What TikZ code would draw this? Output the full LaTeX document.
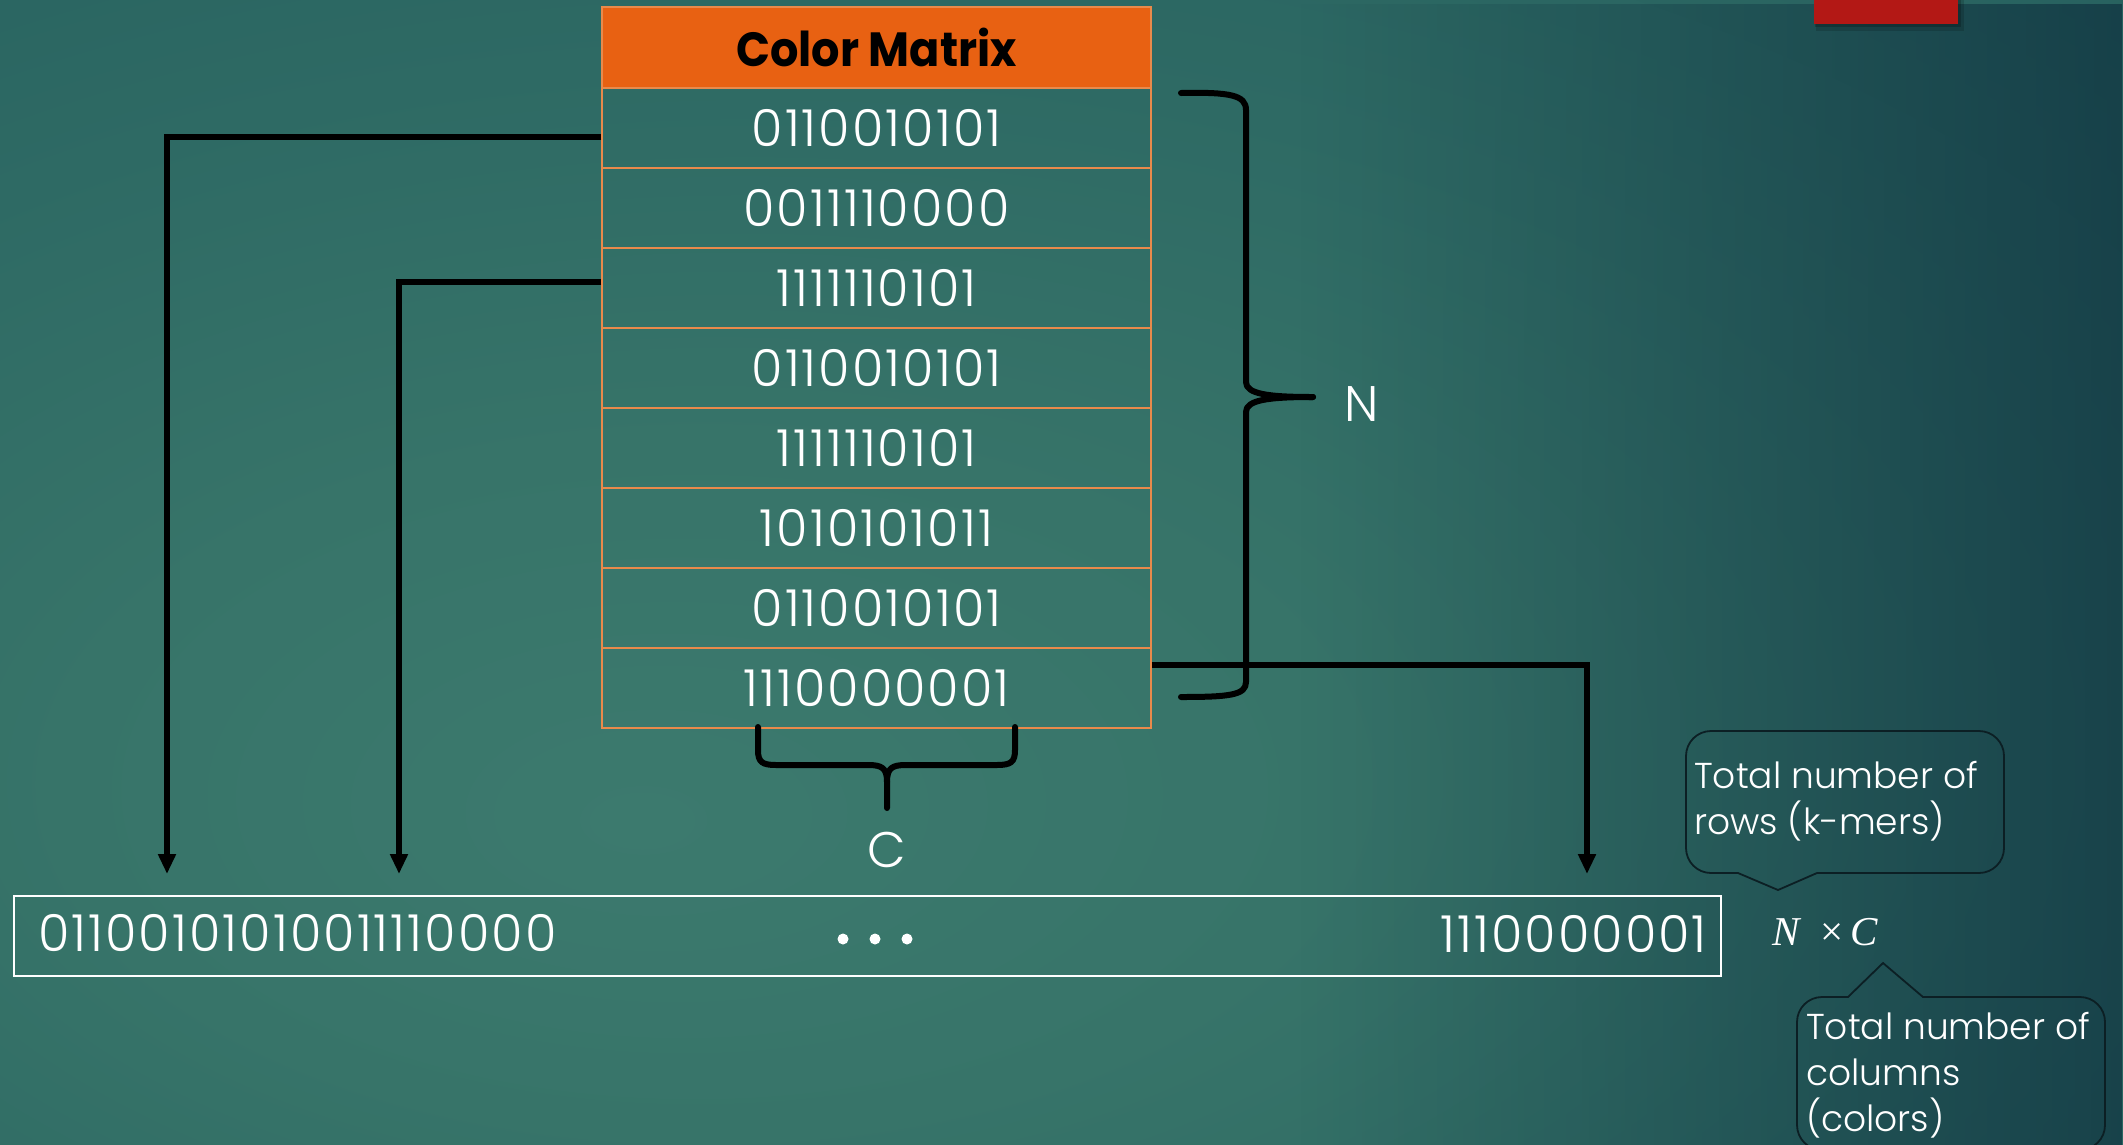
\documentclass[tikz,border=0pt]{standalone}
\usepackage{fontspec}
\setmainfont{Poppins Light}[BoldFont=Poppins Bold]
\newfontfamily\digfont{Poppins Light}[LetterSpace=4]
\newfontfamily\hdrfont{Poppins Bold}[FakeStretch=0.93]
\newfontfamily\ncfont{Liberation Serif}
\usetikzlibrary{arrows.meta,fadings}
\definecolor{bgA}{HTML}{3C7A6E}
\definecolor{bgB}{HTML}{377469}
\definecolor{bgC}{HTML}{2E6A64}
\definecolor{bgD}{HTML}{27615F}
\definecolor{bgE}{HTML}{215859}
\definecolor{bgF}{HTML}{1D5156}
\definecolor{bgG}{HTML}{174650}
\definecolor{navy}{HTML}{0B2A3A}
\definecolor{hdr}{HTML}{E86112}
\definecolor{cellline}{HTML}{E98A4B}
\definecolor{redbar}{HTML}{B31815}
\definecolor{callline}{HTML}{0C1F24}
\pgfdeclareradialshading{bgshade}{\pgfpoint{-10bp}{-11bp}}{color(0bp)=(bgA); color(15bp)=(bgB); color(30bp)=(bgC); color(45bp)=(bgD); color(60bp)=(bgE); color(75bp)=(bgF); color(100bp)=(bgG)}
\begin{document}
\begin{tikzpicture}[x=1pt,y=-1pt,
  wire/.style={line width=5.5pt, black, -{Triangle[length=20pt,width=17pt]}},
  bracepath/.style={line width=6pt, black, line cap=round, line join=round},
  cell/.style={draw=cellline, line width=1.6pt, minimum width=549pt, minimum height=79.8pt, inner sep=0pt, text=white, font=\digfont\fontsize{51}{56}\selectfont},
  lbl/.style={text=white, inner sep=0pt, font=\fontsize{50}{56}\selectfont},
  callout/.style={draw=callline, line width=1.8pt},
  calltext/.style={text=white, inner sep=0pt, align=left, font=\fontsize{36}{46}\selectfont}]
\useasboundingbox (0,0) rectangle (2123,1144);
\shade[shading=bgshade] (0,0) rectangle (2123,1144);
\fill[navy, opacity=0.6, path fading=west] (1300,0) rectangle (2123,1144);
% red bar
\fill[black,opacity=0.15] (1816,0) rectangle (1964,31);
\fill[black,opacity=0.2] (1815,0) rectangle (1961,27);
\fill[redbar] (1814,0) rectangle (1958,24);
% table
\node[cell, fill=hdr, text=black, font=\hdrfont\fontsize{48}{56}\selectfont, minimum height=81pt] (hdr) at (876.5,47.5) {Color Matrix};
\foreach \t [count=\i] in {0110010101,0011110000,1111110101,0110010101,1111110101,1010101011,0110010101,1110000001}
  \node[cell] (r\i) at (876.5,48+80*\i) {\t};
% right brace
\draw[bracepath] (1181,93) .. controls (1230,92) and (1246,95) .. (1246,110) -- (1246,382) .. controls (1246,394) and (1268,397) .. (1313,397);
\draw[bracepath] (1313,397) .. controls (1268,397) and (1246,400) .. (1246,412) -- (1246,682) .. controls (1246,695) and (1230,697) .. (1181,697);
\node[lbl] (nlab) at (1362,404) {N};
% bottom brace
\draw[bracepath] (758,727) -- (758,750) .. controls (758,762) and (762,765) .. (776,765) -- (868,765) .. controls (882,765) and (887,768) .. (887,782) -- (887,808);
\draw[bracepath] (1015,727) -- (1015,750) .. controls (1015,762) and (1011,765) .. (997,765) -- (906,765) .. controls (892,765) and (887,768) .. (887,782);
\node[lbl] (clab) at (887,850) {C};
% bottom box
\node[draw=white, line width=2.5pt, minimum width=1707pt, minimum height=80pt, inner sep=0pt] (vec) at (867.5,936) {};
\node[text=white, inner sep=0pt, anchor=base west, font=\digfont\fontsize{51}{56}\selectfont] (vl) at (38,951) {01100101010011110000};
\node[text=white, inner sep=0pt, anchor=base east, font=\digfont\fontsize{51}{56}\selectfont] (vr) at (1707,952) {1110000001};
\fill[white] (843,939) circle (5.5) (875,939) circle (5.5) (907,939) circle (5.5);
% connectors
\coordinate (a1) at (167,874);
\coordinate (a2) at (399,874);
\coordinate (a3) at (1587,874);
\draw[wire] ([yshift=-9pt]r1.west) -| (a1);
\draw[wire] ([yshift=6pt]r3.west) -| (a2);
\draw[wire] ([yshift=23pt]r8.east) -| (a3);
% N x C
\node[text=white, inner sep=0pt, anchor=base west, font=\ncfont\fontsize{41}{46}\selectfont] (nc) at (1772,945) {\itshape N\ \ \upshape×\,\itshape C};
% callout 1
\draw[callout] (1778,890) -- (1738,873) -- (1711,873) arc[start angle=90,end angle=180,radius=25] -- (1686,756) arc[start angle=180,end angle=270,radius=25] -- (1979,731) arc[start angle=270,end angle=360,radius=25] -- (2004,848) arc[start angle=0,end angle=90,radius=25] -- (1817,873) -- cycle;
\node[calltext, anchor=north west] (t1) at (1694,761) {Total number of\\rows (k-mers)};
% callout 2
\draw[callout] (1883,963) -- (1923,997) -- (2080,997) arc[start angle=270,end angle=360,radius=25] -- (2105,1125) arc[start angle=0,end angle=90,radius=25] -- (1822,1150) arc[start angle=90,end angle=180,radius=25] -- (1797,1022) arc[start angle=180,end angle=270,radius=25] -- (1848,997) -- cycle;
\node[calltext, anchor=north west] (t2) at (1806,1012) {Total number of\\columns\\(colors)};
\end{tikzpicture}
\end{document}
